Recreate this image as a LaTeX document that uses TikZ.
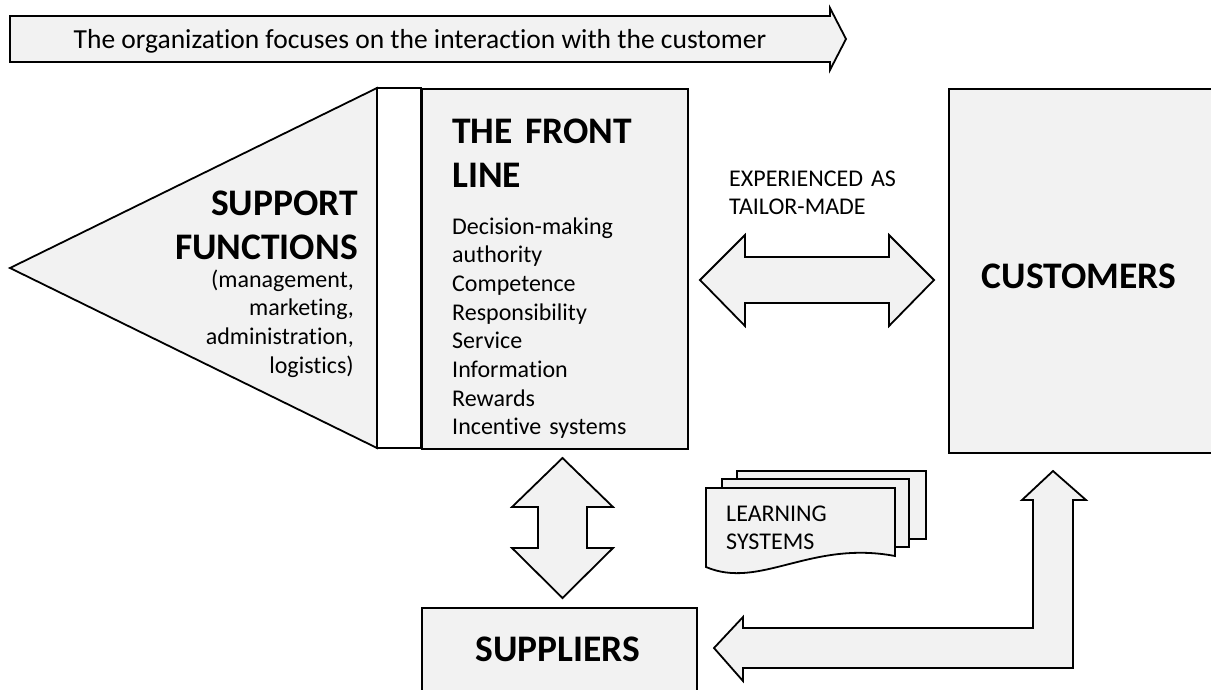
\documentclass[tikz,border=0pt]{standalone}
\usepackage{fontspec}
\setmainfont{Carlito}[Ligatures=NoCommon]
\usetikzlibrary{positioning}

\definecolor{boxgray}{HTML}{F2F2F2}

\begin{document}
\begin{tikzpicture}[
    x=1pt, y=-1pt,
    every node/.style={inner sep=0pt, font=\fontsize{24}{28.7}\selectfont},
    shapefill/.style={draw=black, line width=1.8pt, fill=boxgray},
    bigtitle/.style={font=\fontsize{37.5}{44}\selectfont\bfseries},
    listtext/.style={font=\fontsize{24}{28.7}\selectfont}
  ]

  \useasboundingbox (0,0) rectangle (1211,689);
  \clip (0,0) rectangle (1211,689);

  % banner along the top
  \draw[shapefill] (10,16) -- (830,16) -- (830,8) -- (846,39) -- (830,70) -- (830,62) -- (10,62) -- cycle;
  \node[font=\fontsize{27.5}{32}\selectfont, anchor=base] (focus) at (420,48) {The organization focuses on the interaction with the customer};

  % support functions and the front line
  \draw[shapefill] (10,268) -- (377,88) -- (377,448) -- cycle;
  \draw[shapefill, fill=white] (377,88) rectangle (421,448);
  \node[shapefill, anchor=north west, minimum width=266pt, minimum height=360pt] (front) at (421,88) {};

  \node[bigtitle, anchor=base east, text width=220pt, align=right] (supporttitle) at (358,215) {SUPPORT\\FUNCTIONS};
  \node[listtext, anchor=base east, text width=220pt, align=right] (supportlist) at (354,287)
    {(management,\\marketing,\\administration,\\logistics)};

  \node[bigtitle, anchor=base west, text width=230pt, align=left] (fronttitle) at (452,143) {THE FRONT\\LINE};
  \node[listtext, anchor=base west, text width=230pt, align=left] (frontlist) at (452,234)
    {Decision-making\\authority\\Competence\\Responsibility\\Service\\Information\\Rewards\\Incentive systems};

  % customers and suppliers
  \node[shapefill, anchor=north west, minimum width=280pt, minimum height=364pt] (cust) at (948,88) {};
  \node[bigtitle, anchor=base] (custlabel) at (1079,288) {CUSTOMERS};

  \node[shapefill, anchor=north west, minimum width=275pt, minimum height=120pt] (supp) at (421,607) {};
  \node[bigtitle, anchor=base] (supplabel) at (558,661) {SUPPLIERS};

  % block arrows
  \draw[shapefill] (700,280) -- (745,235) -- (745,257) -- (889,257) -- (889,235) -- (934,280)
    -- (889,326) -- (889,303) -- (745,303) -- (745,326) -- cycle;
  \node[listtext, anchor=base west, text width=200pt, align=left] (tailor) at (729,186) {EXPERIENCED AS\\TAILOR-MADE};

  \draw[shapefill] (562.5,458) -- (613,507) -- (587,507) -- (587,548) -- (613,548) -- (562.5,598)
    -- (512,548) -- (538,548) -- (538,507) -- (512,507) -- cycle;

  \draw[shapefill] (714,648) -- (743,617) -- (743,628) -- (1033,628) -- (1033,500) -- (1022,500)
    -- (1053,471) -- (1086,500) -- (1073,500) -- (1073,668) -- (743,668) -- (743,681) -- cycle;

  % learning systems (stacked documents)
  \draw[shapefill] (737,471) rectangle (926,539);
  \draw[shapefill] (722,479) rectangle (909,547);
  \draw[shapefill] (706,488) -- (895,488) -- (895,556) .. controls (810,540) and (760,590) .. (706,567) -- cycle;
  \node[listtext, anchor=base west, text width=150pt, align=left] (learning) at (726,521) {LEARNING\\SYSTEMS};

\end{tikzpicture}
\end{document}
